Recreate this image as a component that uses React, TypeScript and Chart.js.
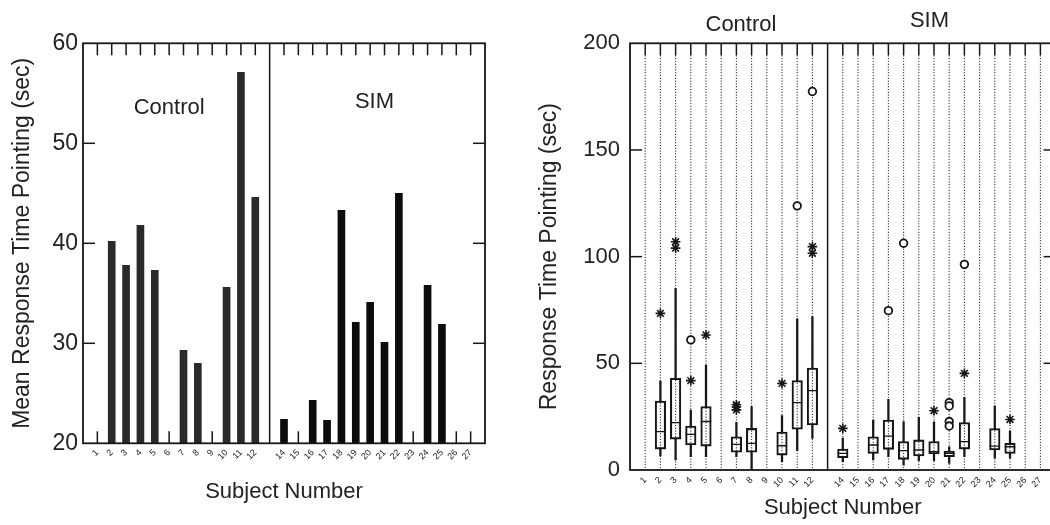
import React, { useEffect, useRef } from 'react';
import { Chart, registerables } from 'chart.js';

Chart.register(...registerables);

const FONT = '"Liberation Sans", Arial, Helvetica, sans-serif';

// ---- categories ----
const controlSubjects = [1, 2, 3, 4, 5, 6, 7, 8, 9, 10, 11, 12];
const simSubjects = [14, 15, 16, 17, 18, 19, 20, 21, 22, 23, 24, 25, 26, 27];
const allSubjects = [...controlSubjects, ...simSubjects];
const groupDivider = 13;
const groupNames = ['Control', 'SIM'];

// ---- left panel: mean response time ----
const meanSubjects = [2, 3, 4, 5, 7, 8, 10, 11, 12, 14, 16, 17, 18, 19, 20, 21, 22, 24, 25];
const meanValues = [40.2, 37.8, 41.8, 37.3, 29.3, 28.0, 35.6, 57.1, 44.6, 22.4, 24.3, 22.3, 43.3, 32.1, 34.1, 30.1, 45.0, 35.8, 31.9];
const meanTicks = [20, 30, 40, 50, 60];

// ---- right panel: box plots ----
const boxSubjects = [2, 3, 4, 5, 7, 8, 10, 11, 12, 14, 16, 17, 18, 19, 20, 21, 22, 24, 25];
const whiskerLow = [6.6, 4.7, 6.2, 6.2, 6.2, 0, 3.9, 9.1, 14.8, 3.9, 4.7, 6.2, 2.3, 4.4, 4.4, 3.1, 6.2, 5.5, 5.5];
const quartile1 = [9.8, 14.5, 11.7, 11.2, 8.3, 8.3, 7.0, 19.1, 21.1, 5.8, 7.8, 9.7, 5.0, 6.6, 7.5, 6.2, 9.8, 9.4, 7.8];
const medians = [18.0, 22.2, 16.7, 22.7, 12.0, 12.5, 11.4, 31.6, 37.2, 7.8, 11.7, 15.9, 9.1, 9.4, 8.6, 7.8, 13.3, 11.2, 10.9];
const quartile3 = [32.3, 43.0, 20.6, 29.7, 15.6, 19.5, 17.8, 41.9, 47.8, 9.8, 15.6, 23.4, 13.3, 14.1, 13.3, 8.9, 22.2, 19.4, 12.5];
const whiskerHigh = [41.7, 85.2, 28.1, 49.2, 22.3, 29.7, 25.5, 70.8, 71.9, 15.0, 23.4, 33.1, 22.7, 24.7, 22.6, 10.9, 34.1, 30.0, 18.4];

const starSubjects = [2, 3, 3, 4, 5, 7, 7, 7, 10, 12, 12, 14, 20, 22, 25];
const starValues = [73.4, 104.0, 107.0, 41.9, 63.3, 28.2, 29.5, 30.6, 40.6, 101.6, 104.7, 19.5, 27.8, 45.3, 23.7];
const circleSubjects = [4, 11, 12, 17, 18, 21, 21, 21, 21, 22];
const circleValues = [61.0, 123.8, 177.4, 74.7, 106.3, 31.6, 30.0, 22.7, 20.6, 96.4];
const timeTicks = [0, 50, 100, 150, 200];

const INK = '#161616';

function framePlugin(cfg: any) {
  const line = (ctx: any, x1: number, y1: number, x2: number, y2: number) => {
    ctx.beginPath();
    ctx.moveTo(x1, y1);
    ctx.lineTo(x2, y2);
    ctx.stroke();
  };
  return {
    id: 'frame',
    beforeDatasetsDraw(chart: any) {
      const { ctx, chartArea: a } = chart;
      const xs = chart.scales.x;
      ctx.save();
      if (cfg.dotted) {
        ctx.strokeStyle = '#3a3a3a';
        ctx.lineWidth = 1.1;
        ctx.setLineDash([1.2, 1.6]);
        for (const s of allSubjects) {
          const px = xs.getPixelForValue(s);
          line(ctx, px, a.top + cfg.tickLen, px, a.bottom);
        }
        ctx.setLineDash([]);
      }
      ctx.strokeStyle = INK;
      ctx.lineWidth = 1.5;
      for (const s of allSubjects) {
        const px = xs.getPixelForValue(s);
        line(ctx, px, a.top, px, a.top + cfg.tickLen);
        if (cfg.bottomTicks) line(ctx, px, a.bottom, px, a.bottom - cfg.tickLen);
      }
      ctx.restore();
    },
    afterDatasetsDraw(chart: any) {
      const { ctx, chartArea: a } = chart;
      const xs = chart.scales.x;
      const ys = chart.scales.y;
      ctx.save();
      ctx.strokeStyle = INK;
      ctx.lineWidth = 1.5;
      for (const v of cfg.yTicks) {
        const py = ys.getPixelForValue(v);
        if (py <= a.top + 1 || py >= a.bottom - 1) continue;
        line(ctx, a.left, py, a.left + cfg.tickLen, py);
        line(ctx, a.right, py, a.right - cfg.tickLen, py);
      }
      const dx = xs.getPixelForValue(groupDivider);
      line(ctx, dx, a.top, dx, a.bottom);
      ctx.lineWidth = 1.8;
      ctx.strokeRect(a.left, a.top, a.right - a.left, a.bottom - a.top);
      ctx.fillStyle = '#222';
      ctx.font = `${cfg.labelSize}px ${FONT}`;
      ctx.textAlign = 'center';
      ctx.textBaseline = 'middle';
      for (const l of cfg.labels) {
        ctx.fillText(l.text, xs.getPixelForValue(l.x), ys.getPixelForValue(l.y));
      }
      ctx.restore();
    },
  };
}

function xScale(height: number, titlePadBottom: number, tickPad: number) {
  return {
    type: 'linear',
    min: 0,
    max: 28,
    offset: false,
    grid: { display: false, drawTicks: false },
    border: { display: false },
    ticks: {
      stepSize: 1,
      autoSkip: false,
      minRotation: 45,
      maxRotation: 45,
      padding: tickPad,
      color: '#222',
      font: { family: FONT, size: 9 },
      callback: (v: any) => (allSubjects.includes(v) ? String(v) : ''),
    },
    title: {
      display: true,
      text: 'Subject Number',
      color: '#222',
      font: { family: FONT, size: 22 },
      padding: { top: 0, bottom: titlePadBottom },
    },
    afterFit: (s: any) => {
      s.height = height;
    },
  };
}

function yScale(min: number, max: number, step: number, width: number, title: string, titlePadTop: number, fontSize: number, tickPad: number) {
  return {
    min,
    max,
    grid: { display: false, drawTicks: false },
    border: { display: false },
    ticks: {
      stepSize: step,
      padding: tickPad,
      color: '#222',
      font: { family: FONT, size: fontSize },
    },
    title: {
      display: true,
      text: title,
      color: '#222',
      font: { family: FONT, size: 23 },
      padding: { top: titlePadTop, bottom: 0 },
    },
    afterFit: (s: any) => {
      s.width = width;
    },
  };
}

function leftConfig(): any {
  return {
    type: 'bar',
    data: {
      datasets: [
        {
          data: meanSubjects.map((s, i) => ({ x: s, y: meanValues[i] })),
          backgroundColor: meanSubjects.map((s) => (s < groupDivider ? '#2a2a2a' : '#0c0c0c')),
          borderWidth: 0,
          barThickness: 7,
          grouped: false,
        },
      ],
    },
    options: {
      responsive: false,
      animation: false,
      devicePixelRatio: 1,
      layout: { padding: { left: 0, right: 45, top: 43.3, bottom: 0 } },
      plugins: { legend: { display: false }, tooltip: { enabled: false } },
      scales: {
        x: xScale(81.7, 19.8, 4),
        y: yScale(20, 60, 10, 83, 'Mean Response Time Pointing (sec)', 9, 23, 5),
      },
    },
    plugins: [
      framePlugin({
        tickLen: 12,
        bottomTicks: true,
        dotted: false,
        yTicks: meanTicks,
        labelSize: 22,
        labels: [
          { text: groupNames[0], x: 6.0, y: 53.5 },
          { text: groupNames[1], x: 20.3, y: 54.1 },
        ],
      }),
    ],
  };
}

function rightConfig(): any {
  const pts = (xs: number[], ys: number[]) => xs.map((s, i) => ({ x: s, y: ys[i] }));
  return {
    type: 'bar',
    data: {
      datasets: [
        {
          label: 'lower whisker',
          data: boxSubjects.map((s, i) => ({ x: s, y: [whiskerLow[i], quartile1[i]] })),
          backgroundColor: INK,
          borderWidth: 0,
          barThickness: 1.6,
          grouped: false,
          order: 5,
        },
        {
          label: 'upper whisker',
          data: boxSubjects.map((s, i) => ({ x: s, y: [quartile3[i], whiskerHigh[i]] })),
          backgroundColor: INK,
          borderWidth: 0,
          barThickness: 1.6,
          grouped: false,
          order: 4,
        },
        {
          label: 'box',
          data: boxSubjects.map((s, i) => ({ x: s, y: [quartile1[i], quartile3[i]] })),
          backgroundColor: 'rgba(0,0,0,0)',
          borderColor: INK,
          borderWidth: 1.4,
          borderSkipped: false,
          barThickness: 10.5,
          grouped: false,
          order: 3,
        },
        {
          type: 'scatter',
          label: 'median',
          data: pts(boxSubjects, medians),
          pointStyle: 'line',
          pointRadius: 5.25,
          borderColor: INK,
          borderWidth: 1.4,
          order: 2,
        },
        {
          type: 'scatter',
          label: 'far outliers',
          data: pts(circleSubjects, circleValues),
          pointStyle: 'circle',
          pointRadius: 3.8,
          backgroundColor: '#fff',
          borderColor: INK,
          borderWidth: 1.8,
          order: 1,
        },
        {
          type: 'scatter',
          label: 'outliers',
          data: pts(starSubjects, starValues),
          pointStyle: 'star',
          pointRadius: 4.8,
          borderColor: INK,
          borderWidth: 1.6,
          order: 0,
        },
      ],
    },
    options: {
      responsive: false,
      animation: false,
      devicePixelRatio: 1,
      layout: { padding: { left: 0, right: 24.4, top: 43.3, bottom: 0 } },
      plugins: { legend: { display: false }, tooltip: { enabled: false } },
      scales: {
        x: xScale(55, 3.8, 5),
        y: yScale(0, 200, 50, 110, 'Response Time Pointing (sec)', 16.2, 22, 10),
      },
    },
    plugins: [
      framePlugin({
        tickLen: 12,
        bottomTicks: false,
        dotted: true,
        yTicks: timeTicks,
        labelSize: 22,
        labels: [
          { text: groupNames[0], x: 7.3, y: 208.6 },
          { text: groupNames[1], x: 19.7, y: 210.5 },
        ],
      }),
    ],
  };
}

export default function App() {
  const leftRef = useRef<HTMLCanvasElement>(null);
  const rightRef = useRef<HTMLCanvasElement>(null);

  useEffect(() => {
    const c1 = new Chart(leftRef.current as HTMLCanvasElement, leftConfig());
    const c2 = new Chart(rightRef.current as HTMLCanvasElement, rightConfig());
    return () => {
      c1.destroy();
      c2.destroy();
    };
  }, []);

  return (
    <div
      style={{
        position: 'fixed',
        left: 0,
        top: 0,
        width: 1050,
        height: 525,
        overflow: 'hidden',
        background: '#fff',
      }}
    >
      <canvas ref={leftRef} width={530} height={525} style={{ position: 'absolute', left: 0, top: 0 }} />
      <canvas ref={rightRef} width={560} height={525} style={{ position: 'absolute', left: 520, top: 0 }} />
    </div>
  );
}
